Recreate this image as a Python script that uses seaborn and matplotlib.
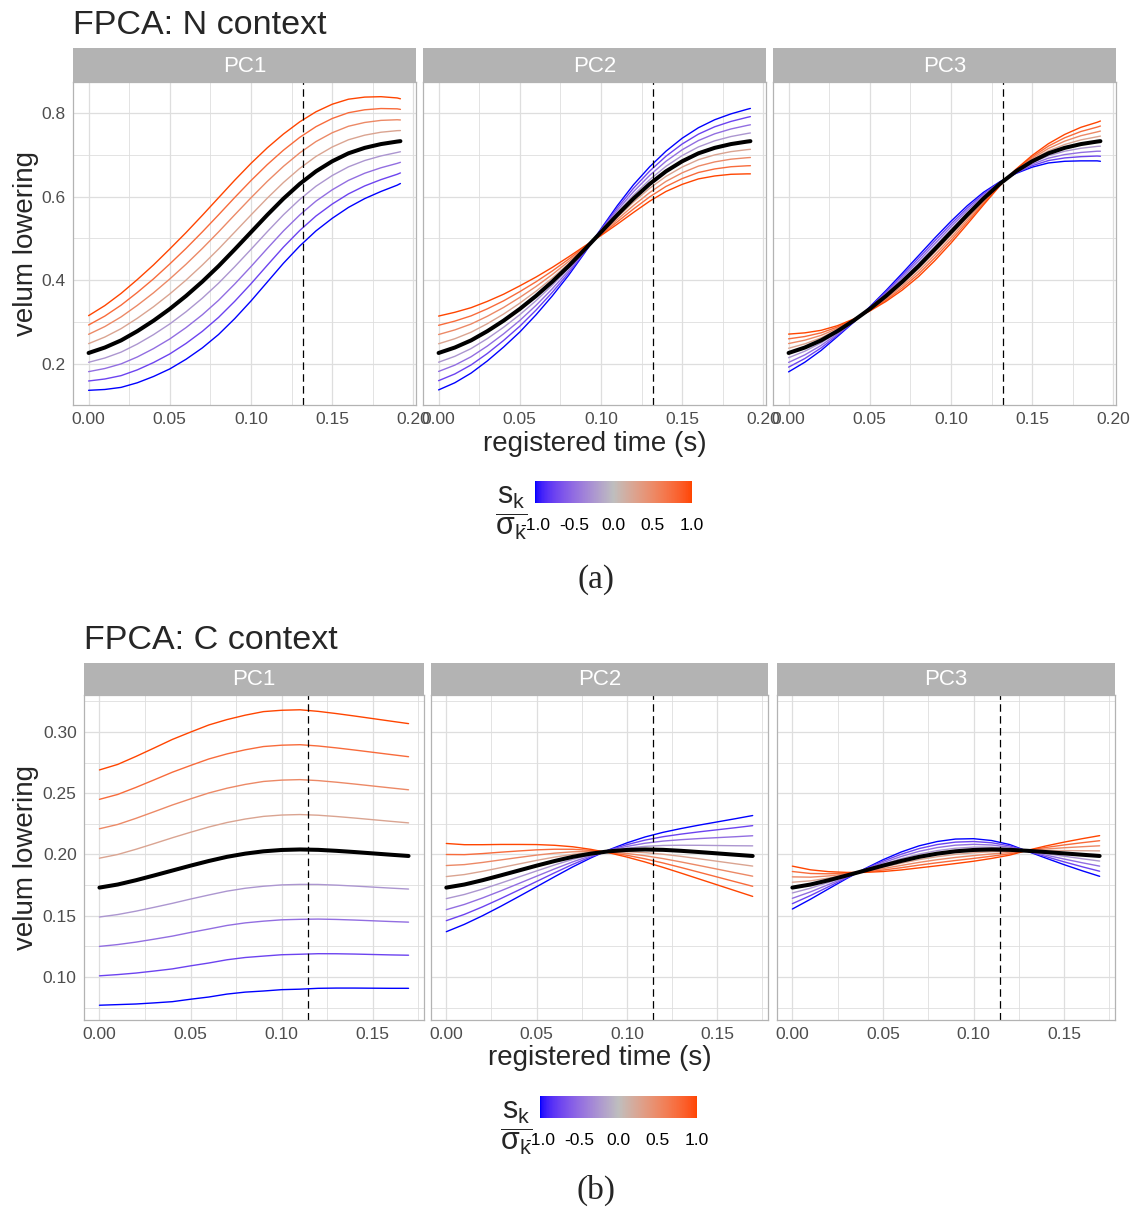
import numpy as np
import pandas as pd
import matplotlib
matplotlib.use("Agg")
import matplotlib.pyplot as plt
import seaborn as sns
from matplotlib.colors import ListedColormap, Normalize
from matplotlib.cm import ScalarMappable
from matplotlib.ticker import MultipleLocator, FormatStrFormatter

# ======================================
# DATA
# ======================================
pc_names = ["PC1", "PC2", "PC3"]
s_levels = [-1.0, -0.75, -0.5, -0.25, 0.25, 0.5, 0.75, 1.0]

# N context
t_N = [0.00, 0.01, 0.02, 0.03, 0.04, 0.05, 0.06, 0.07, 0.08, 0.09, 0.10,
       0.11, 0.12, 0.13, 0.14, 0.15, 0.16, 0.17, 0.18, 0.19, 0.192]
mean_N = [0.227, 0.240, 0.257, 0.279, 0.304, 0.332, 0.363, 0.397, 0.434, 0.474, 0.515,
          0.556, 0.595, 0.630, 0.660, 0.684, 0.703, 0.716, 0.725, 0.731, 0.732]
pc1_N = [0.089, 0.100, 0.112, 0.123, 0.133, 0.143, 0.151, 0.158, 0.163, 0.165, 0.164,
         0.160, 0.154, 0.148, 0.142, 0.136, 0.129, 0.121, 0.113, 0.104, 0.101]
pc2_N = [0.088, 0.084, 0.078, 0.071, 0.063, 0.055, 0.045, 0.034, 0.022, 0.008, -0.008,
         -0.022, -0.033, -0.041, -0.048, -0.055, -0.061, -0.067, -0.072, -0.077, -0.078]
pc3_N = [0.045, 0.035, 0.024, 0.013, 0.004, -0.005, -0.013, -0.020, -0.025, -0.027, -0.026,
         -0.022, -0.015, -0.005, 0.005, 0.014, 0.023, 0.032, 0.040, 0.046, 0.048]
vline_N = 0.1318

# C context
t_C = [0.00, 0.01, 0.02, 0.03, 0.04, 0.05, 0.06, 0.07, 0.08, 0.09,
       0.10, 0.11, 0.12, 0.13, 0.14, 0.15, 0.16, 0.1696]
mean_C = [0.1730, 0.1755, 0.1790, 0.1829, 0.1869, 0.1909, 0.1947, 0.1981, 0.2007, 0.2026,
          0.2037, 0.2041, 0.2038, 0.2030, 0.2020, 0.2009, 0.1998, 0.1988]
pc1_C = [0.096, 0.098, 0.101, 0.104, 0.107, 0.109, 0.111, 0.112, 0.113, 0.114,
         0.114, 0.114, 0.113, 0.112, 0.111, 0.110, 0.109, 0.108]
pc2_C = [0.0360, 0.0325, 0.0290, 0.0253, 0.0213, 0.0172, 0.0128, 0.0082, 0.0035, -0.0012,
         -0.0058, -0.0102, -0.0143, -0.0182, -0.0220, -0.0257, -0.0294, -0.0330]
pc3_C = [0.0175, 0.0120, 0.0070, 0.0025, -0.0015, -0.0048, -0.0073, -0.0090, -0.0099, -0.0100,
         -0.0092, -0.0073, -0.0043, 0.0005, 0.0050, 0.0092, 0.0131, 0.0166]
vline_C = 0.1145

# ======================================
# COLOUR SCALE (blue - grey - orangered, Lab interpolation like ggplot)
# ======================================
M_RGB2XYZ = np.array([[0.4124, 0.3576, 0.1805],
                      [0.2126, 0.7152, 0.0722],
                      [0.0193, 0.1192, 0.9505]])
WHITE = np.array([0.95047, 1.0, 1.08883])


def hex_to_lab(h):
    c = np.array([int(h[i:i + 2], 16) / 255 for i in (1, 3, 5)])
    lin = np.where(c <= 0.04045, c / 12.92, ((c + 0.055) / 1.055) ** 2.4)
    xyz = M_RGB2XYZ @ lin / WHITE
    f = np.where(xyz > 0.008856, np.cbrt(xyz), 7.787 * xyz + 16 / 116)
    return np.array([116 * f[1] - 16, 500 * (f[0] - f[1]), 200 * (f[1] - f[2])])


def lab_to_rgb(lab):
    fy = (lab[0] + 16) / 116
    f = np.array([fy + lab[1] / 500, fy, fy - lab[2] / 200])
    xyz = np.where(f ** 3 > 0.008856, f ** 3, (f - 16 / 116) / 7.787) * WHITE
    lin = np.clip(np.linalg.inv(M_RGB2XYZ) @ xyz, 0, 1)
    c = np.where(lin <= 0.0031308, 12.92 * lin, 1.055 * lin ** (1 / 2.4) - 0.055)
    return np.clip(c, 0, 1)


low, mid, high = hex_to_lab("#0000FF"), hex_to_lab("#BEBEBE"), hex_to_lab("#FF4500")
cols = []
for v in np.linspace(-1, 1, 256):
    if v < 0:
        cols.append(lab_to_rgb(low + (mid - low) * (v + 1)))
    else:
        cols.append(lab_to_rgb(mid + (high - mid) * v))
cmap = ListedColormap(cols)

# ======================================
# LONG TABLE FOR SEABORN
# ======================================
contexts = {
    "N": (t_N, mean_N, [pc1_N, pc2_N, pc3_N], vline_N),
    "C": (t_C, mean_C, [pc1_C, pc2_C, pc3_C], vline_C),
}
rows = []
for ctx, (t, mean, pcs, _) in contexts.items():
    for name, delta in zip(pc_names, pcs):
        for s in s_levels:
            y = np.array(mean) + s * np.array(delta)
            rows.append(pd.DataFrame({"context": ctx, "pc": name, "s": s, "t": t, "y": y}))
df = pd.concat(rows, ignore_index=True)

# ======================================
# STYLE
# ======================================
sns.set_style("white")
plt.rcParams["font.family"] = ["Liberation Sans", "DejaVu Sans"]
plt.rcParams["axes.unicode_minus"] = False
plt.rcParams["mathtext.fontset"] = "custom"
plt.rcParams["mathtext.rm"] = "Liberation Sans"
plt.rcParams["mathtext.it"] = "Liberation Sans"

W, H = 1135, 1208
fig = plt.figure(figsize=(W / 100, H / 100), dpi=100)


def box(x0, y0, x1, y1):
    return [x0 / W, 1 - y1 / H, (x1 - x0) / W, (y1 - y0) / H]


GRID = "#DEDEDE"
BORDER = "#B3B3B3"

layout = {
    "N": dict(xs=[(73, 416), (423, 766), (773, 1116)], top=82, bottom=405, strip=48,
              title="FPCA: N context", title_xy=(73, 34), yfmt="%.1f", ystep=0.2,
              xlab_y=444, cb=(535, 481, 692, 503), frac=(511, 513), cap="(a)", cap_y=580),
    "C": dict(xs=[(84, 424), (431, 768), (777, 1115)], top=695, bottom=1020, strip=663,
              title="FPCA: C context", title_xy=(84, 649), yfmt="%.2f", ystep=0.05,
              xlab_y=1058, cb=(540, 1096, 697, 1118), frac=(516, 1128), cap="(b)", cap_y=1190),
}

for ctx, (t, mean, pcs, vline) in contexts.items():
    L = layout[ctx]
    sub = df[df["context"] == ctx]
    ylo, yhi = sub["y"].min(), sub["y"].max()
    pad_y = (yhi - ylo) * 0.05
    for i, name in enumerate(pc_names):
        x0, x1 = L["xs"][i]
        ax = fig.add_axes(box(x0, L["top"], x1, L["bottom"]))
        d = sub[sub["pc"] == name]
        sns.lineplot(data=d, x="t", y="y", hue="s", palette=cmap, hue_norm=(-1, 1),
                     estimator=None, sort=False, linewidth=1.0, legend=False, ax=ax,
                     solid_joinstyle="round")
        sns.lineplot(x=t, y=mean, color="black", linewidth=2.9, ax=ax,
                     solid_joinstyle="round")
        ax.axvline(vline, color="black", linewidth=0.9, linestyle=(0, (6, 3.5)))

        ax.set_xlim(-max(t) * 0.05, max(t) * 1.05)
        ax.set_ylim(ylo - pad_y, yhi + pad_y)
        ax.xaxis.set_major_locator(MultipleLocator(0.05))
        ax.xaxis.set_minor_locator(MultipleLocator(0.025))
        ax.yaxis.set_major_locator(MultipleLocator(L["ystep"]))
        ax.yaxis.set_minor_locator(MultipleLocator(L["ystep"] / 2))
        ax.xaxis.set_major_formatter(FormatStrFormatter("%.2f"))
        ax.yaxis.set_major_formatter(FormatStrFormatter(L["yfmt"]))
        ax.grid(True, which="major", color=GRID, linewidth=0.9)
        ax.grid(True, which="minor", color=GRID, linewidth=0.6)
        ax.set_axisbelow(True)
        for sp in ax.spines.values():
            sp.set_color(BORDER)
            sp.set_linewidth(0.9)
        ax.tick_params(which="major", length=2.75, width=0.8, color=BORDER,
                       labelsize=12.5, labelcolor="#4D4D4D", pad=2.5)
        ax.tick_params(which="minor", length=0)
        ax.set_xlabel("")
        ax.set_ylabel("")
        if i > 0:
            ax.tick_params(axis="y", labelleft=False)

        # facet strip
        sax = fig.add_axes(box(x0, L["strip"], x1, L["top"]))
        sax.set_facecolor(BORDER)
        sax.set_xticks([])
        sax.set_yticks([])
        for sp in sax.spines.values():
            sp.set_visible(False)
        sax.text(0.5, 0.47, name, color="white", fontsize=16, ha="center", va="center",
                 transform=sax.transAxes)

    # titles and axis labels
    fig.text(L["title_xy"][0] / W, 1 - L["title_xy"][1] / H, L["title"],
             fontsize=24.5, ha="left", va="baseline")
    fig.text(26 / W, 1 - (L["top"] + L["bottom"]) / 2 / H, "velum lowering",
             fontsize=20, rotation=90, ha="center", va="center")
    xs = L["xs"]
    fig.text((xs[0][0] + xs[2][1]) / 2 / W, 1 - L["xlab_y"] / H, "registered time (s)",
             fontsize=20, ha="center", va="center")

    # colour bar legend
    cx0, cy0, cx1, cy1 = L["cb"]
    cax = fig.add_axes(box(cx0, cy0, cx1, cy1))
    cb = fig.colorbar(ScalarMappable(norm=Normalize(-1, 1), cmap=cmap), cax=cax,
                      orientation="horizontal")
    cb.outline.set_visible(False)
    cb.set_ticks([-1, -0.5, 0, 0.5, 1])
    cb.ax.xaxis.set_major_formatter(FormatStrFormatter("%.1f"))
    cb.minorticks_off()
    cb.ax.tick_params(axis="x", which="major", direction="in", color="white", length=4,
                      width=1, top=True, bottom=True, labelsize=12.5, labelcolor="black", pad=11)
    fig.text(L["frac"][0] / W, 1 - L["frac"][1] / H, r"$\dfrac{\mathrm{s_k}}{\mathrm{\sigma_k}}$",
             fontsize=22, ha="center", va="center")

    # caption
    fig.text(596 / W, 1 - L["cap_y"] / H, L["cap"], fontsize=24,
             family=["Liberation Serif", "DejaVu Serif"], ha="center", va="center")

plt.savefig("out.png", dpi=100)
plt.close()
print("Saved: out.png")
